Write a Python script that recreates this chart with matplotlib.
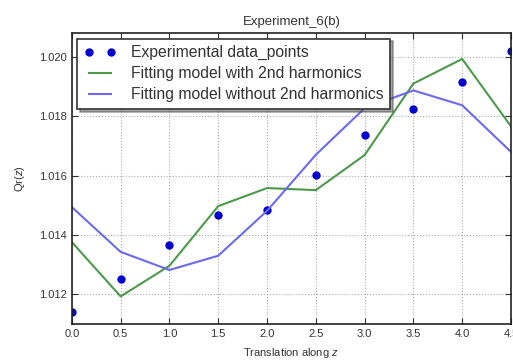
import matplotlib
matplotlib.use("Agg")
import matplotlib.pyplot as plt

plt.rcParams['font.family'] = ['Liberation Sans', 'DejaVu Sans']
plt.rcParams['mathtext.fontset'] = 'custom'
plt.rcParams['mathtext.it'] = 'Liberation Sans:italic'

z = [0.0, 0.5, 1.0, 1.5, 2.0, 2.5, 3.0, 3.5, 4.0, 4.5]
exp_points = [1.0114, 1.0125, 1.01366, 1.01467, 1.01484, 1.01603, 1.01736, 1.01823, 1.01916, 1.0202]
fit_with_2nd = [1.01376, 1.01193, 1.01296, 1.01497, 1.01558, 1.01551, 1.01669, 1.0191, 1.01993, 1.01766]
fit_without_2nd = [1.01494, 1.01343, 1.01282, 1.0133, 1.01481, 1.0167, 1.01827, 1.01887, 1.01837, 1.0168]
xticks = [0.0, 0.5, 1.0, 1.5, 2.0, 2.5, 3.0, 3.5, 4.0, 4.5]
yticks = [1.012, 1.014, 1.016, 1.018, 1.020]

fig = plt.figure(figsize=(5.13, 3.6), dpi=100, facecolor='white')
ax = fig.add_axes([0.140, 0.100, 0.856, 0.808])

ax.plot(z, exp_points, 'o', color='#0000d0', markersize=6, markeredgewidth=0,
        label='Experimental data_points')
ax.plot(z, fit_with_2nd, '-', color='#4a9a4a', linewidth=1.5,
        label='Fitting model with 2nd harmonics')
ax.plot(z, fit_without_2nd, '-', color='#6a6af0', linewidth=1.5,
        label='Fitting model without 2nd harmonics')

ax.set_xlim(0.0, 4.5)
ax.set_ylim(1.0110, 1.0208)
ax.set_xticks(xticks)
ax.set_xticklabels([f'{t:.1f}' for t in xticks])
ax.set_yticks(yticks)
ax.set_yticklabels([f'{t:.3f}' for t in yticks])
ax.tick_params(direction='in', length=4, labelsize=8, colors='#333333', top=True, right=True)
ax.grid(True, linestyle=':', color='#aaaaaa', linewidth=0.8)
for s in ax.spines.values():
    s.set_linewidth(1.2)
    s.set_color('#222222')

ax.set_title('Experiment_6(b)', fontsize=9.5, color='#333333', pad=6)
ax.set_xlabel('Translation along $z$', fontsize=8, color='#333333', labelpad=5)
ax.set_ylabel('Qr($z$)', fontsize=8, color='#333333', labelpad=9)

leg = ax.legend(loc='upper left', numpoints=2, fontsize=11.3, frameon=True, fancybox=False,
                shadow=True, borderaxespad=0.35, handlelength=2.0, handletextpad=1.0,
                labelspacing=0.38, borderpad=0.42)
leg.get_frame().set_edgecolor('#333333')
leg.get_frame().set_linewidth(1.2)
for t in leg.get_texts():
    t.set_color('#333333')

fig.savefig('out.png', dpi=100, facecolor='white')
